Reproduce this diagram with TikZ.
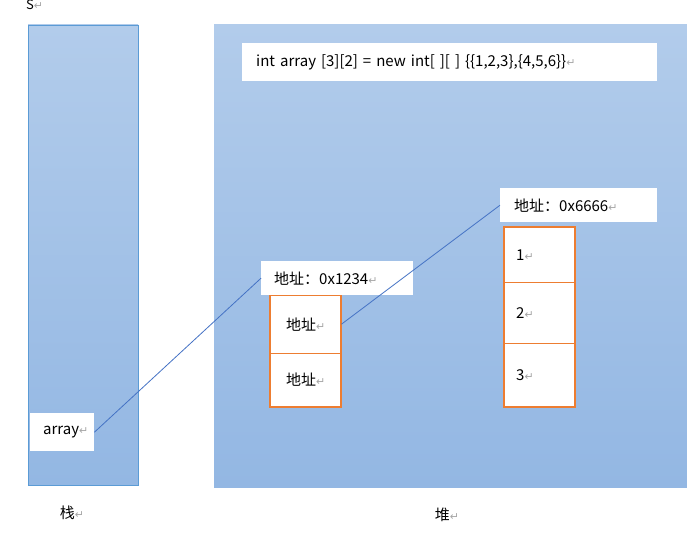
\documentclass[tikz,border=0pt]{standalone}
\usepackage{fontspec}
\newfontfamily\cjk{Noto Sans CJK SC}
\newfontfamily\symfont{DejaVu Sans}
\usetikzlibrary{positioning}

\definecolor{areatop}{RGB}{178,204,235}
\definecolor{areabottom}{RGB}{147,183,227}
\definecolor{stackframe}{RGB}{91,155,213}
\definecolor{cellorange}{RGB}{237,125,49}
\definecolor{linkblue}{RGB}{68,114,196}

\newcommand{\retmark}{{\symfont\color{black!35}\fontsize{11}{11}\selectfont ↵}}

\tikzset{
  area/.style={top color=areatop, bottom color=areabottom},
  whitebox/.style={fill=white, anchor=north west, inner xsep=#1, inner ysep=0pt,
    align=left, font=\cjk\fontsize{15}{17}\selectfont},
  cell/.style={fill=white, anchor=north west, minimum width=71pt, inner sep=0pt,
    font=\cjk\fontsize{15}{17}\selectfont},
  link/.style={linkblue, line width=0.8pt}
}

\begin{document}
\begin{tikzpicture}[x=1pt,y=-1pt]
\useasboundingbox (0,0) rectangle (687,535);

% Stack and heap areas
\fill[area] (28,25) rectangle (138,485);
\draw[stackframe, line width=0.8pt] (28,25) rectangle (138,485);
\fill[area] (214,25) rectangle (687,487);

% Code line
\node[whitebox=14pt, text width=387pt, minimum height=38pt] (code) at (242,43)
  {int array [3][2] = new int[ ][ ] \{\{1,2,3\},\{4,5,6\}\}\retmark};

% First array: two addresses
\node[cell, minimum height=58pt] (adr1a) at (270,295) {地址\retmark};
\node[cell, minimum height=53pt, below=0pt of adr1a] (adr1b) {地址\retmark};
\draw[cellorange, line width=0.6pt] (adr1a.south west) -- (adr1a.south east);
\draw[cellorange, line width=2pt] (adr1a.north west) rectangle (adr1b.south east);
\node[whitebox=13pt, text width=126pt, minimum height=34pt] (addr1) at (261,261)
  {地址：0x1234\retmark};

% Second array: values
\node[cell, minimum height=55pt, align=left, text width=47pt, inner xsep=12pt] (val1) at (504,227) {1\retmark};
\node[cell, minimum height=60pt, align=left, text width=47pt, inner xsep=12pt, below=0pt of val1] (val2) {2\retmark};
\node[cell, minimum height=64pt, align=left, text width=47pt, inner xsep=12pt, below=0pt of val2] (val3) {3\retmark};
\draw[cellorange, line width=0.6pt] (val1.south west) -- (val1.south east);
\draw[cellorange, line width=0.6pt] (val2.south west) -- (val2.south east);
\draw[cellorange, line width=2pt] (val1.north west) rectangle (val3.south east);
\node[whitebox=14pt, text width=129pt, minimum height=34pt] (addr2) at (500,188)
  {地址：0x6666\retmark};

% Reference variable on the stack
\node[whitebox=13pt, text width=38pt, minimum height=38pt] (arr) at (30,413) {array\retmark};

% Links
\draw[link] (arr.east) -- (addr1.west);
\draw[link] (adr1a.east) -- (addr2.west);

% Labels
\node[font=\cjk\fontsize{15}{17}\selectfont] (stacklbl) at (72,513) {栈\retmark};
\node[font=\cjk\fontsize{15}{17}\selectfont] (heaplbl) at (447,515) {堆\retmark};
\node[font=\cjk\fontsize{13}{15}\selectfont, anchor=north west, inner sep=0pt] (corner) at (26,0) {S\retmark};

\end{tikzpicture}
\end{document}
